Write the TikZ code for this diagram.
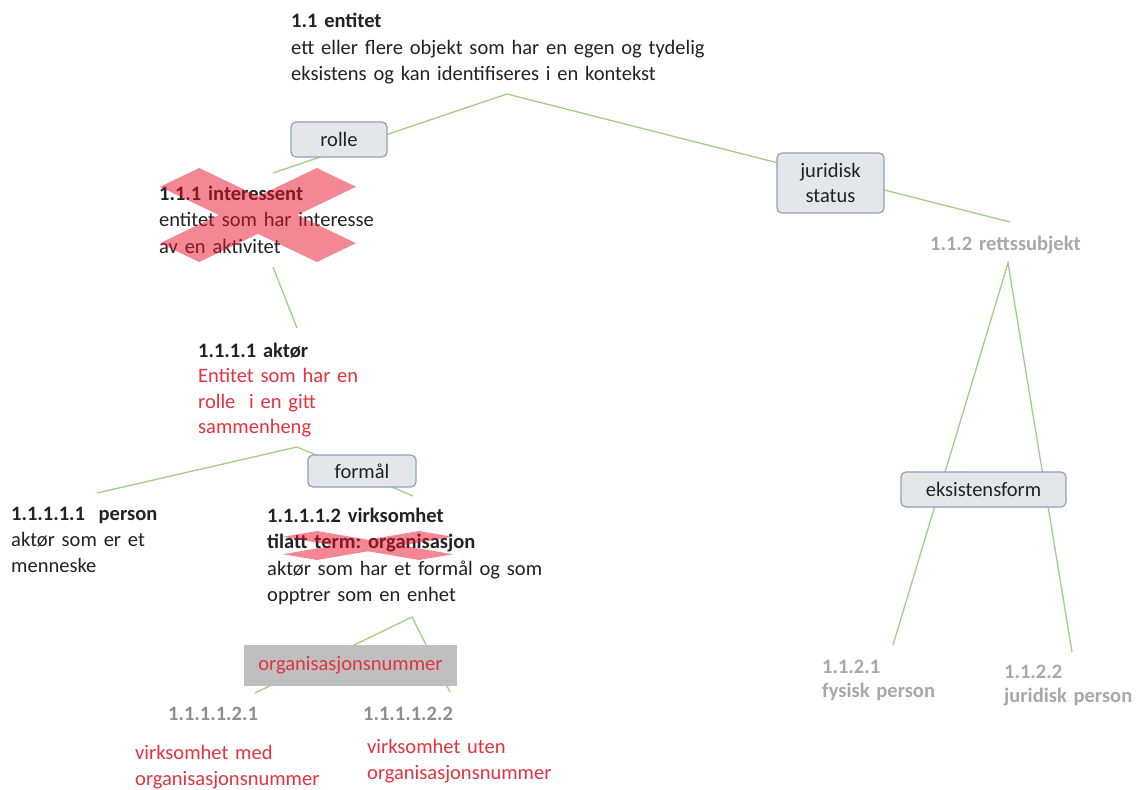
\documentclass[tikz,border=0pt]{standalone}
\usepackage{fontspec}
\setmainfont{Carlito}
\frenchspacing
\definecolor{glinec}{HTML}{A3CF85}
\definecolor{boxfill}{HTML}{E5E6EA}
\definecolor{boxdraw}{HTML}{8DA2B8}
\definecolor{txt}{HTML}{222222}
\definecolor{redtxt}{HTML}{E2333F}
\definecolor{graytxt}{HTML}{A8A8A8}
\definecolor{graytxtB}{HTML}{8E8E8E}
\definecolor{crossred}{HTML}{E8102A}
\definecolor{orgfill}{HTML}{BFBFBF}
\newcommand\mycross[4]{%
  \fill[crossfill] ({#1},{#2-0.4*#4}) -- ({#1+0.6*#3},{#2-#4}) -- ({#1+#3},{#2-0.6*#4}) --
  ({#1+0.4*#3},{#2}) -- ({#1+#3},{#2+0.6*#4}) -- ({#1+0.6*#3},{#2+#4}) --
  ({#1},{#2+0.4*#4}) -- ({#1-0.6*#3},{#2+#4}) -- ({#1-#3},{#2+0.6*#4}) --
  ({#1-0.4*#3},{#2}) -- ({#1-#3},{#2-0.6*#4}) -- ({#1-0.6*#3},{#2-#4}) -- cycle;}
\begin{document}
\begin{tikzpicture}[x=1pt,y=-1pt,
  txtnode/.style={anchor=base west, inner sep=0pt, text width=500pt, align=left,
    font=\fontsize{20.5}{26.5}\selectfont, text=txt},
  boxnode/.style={draw=boxdraw, fill=boxfill, rounded corners=5pt, line width=1.2pt,
    inner sep=0pt, align=center, font=\fontsize{20.5}{25}\selectfont, text=txt},
  gl/.style={draw=glinec, line width=1.3pt},
  crossfill/.style={fill=crossred, fill opacity=0.5}]
\useasboundingbox (0,0) rectangle (1139,789);
\fill[white] (0,0) rectangle (1139,789);

% connector coordinates
\coordinate (entB) at (507,94);
\coordinate (intT) at (273,173);
\coordinate (retT) at (1010,222);
\coordinate (intB) at (273,267);
\coordinate (aktT) at (297,328);
\coordinate (aktB) at (297,447);
\coordinate (perT) at (97,493);
\coordinate (virT) at (413,496);
\coordinate (virB) at (412,617);
\coordinate (v1T) at (255,693);
\coordinate (v2T) at (450,692);
\coordinate (retB) at (1008,263);
\coordinate (fysT) at (893,645);
\coordinate (jurT) at (1072,652);

\draw[gl] (intT) -- (entB) -- (retT);
\draw[gl] (intB) -- (aktT);
\draw[gl] (perT) -- (aktB) -- (virT);
\draw[gl] (v1T) -- (virB) -- (v2T);
\draw[gl] (fysT) -- (retB) -- (jurT);

% text blocks
\node[txtnode] (entitet) at (291,28) {\textbf{1.1 entitet}\\ett eller flere objekt som har en egen og tydelig\\eksistens og kan identifiseres i en kontekst};
\node[txtnode] (interessent) at (159,200) {\textbf{1.1.1 interessent}\\entitet som har interesse\\av en aktivitet};
\node[txtnode, font=\fontsize{20.5}{25.5}\selectfont] (aktor) at (198,357) {\textbf{1.1.1.1 aktør}\\\textcolor{redtxt}{Entitet som har en}\\\textcolor{redtxt}{rolle\ \ i en gitt}\\\textcolor{redtxt}{sammenheng}};
\node[txtnode, font=\fontsize{20.5}{26}\selectfont] (person) at (11,520) {\textbf{1.1.1.1.1\ \ person}\\aktør som er et\\menneske};
\node[txtnode] (virksomhet) at (267,522) {\textbf{1.1.1.1.2 virksomhet}\\\textbf{tilatt term: organisasjon}\\aktør som har et formål og som\\opptrer som en enhet};
\node[txtnode, text=graytxt] (retts) at (930,250) {\textbf{1.1.2 rettssubjekt}};
\node[txtnode, text=graytxt, font=\fontsize{20.5}{24}\selectfont] (fysisk) at (822,673) {\textbf{1.1.2.1}\\\textbf{fysisk person}};
\node[txtnode, text=graytxt, font=\fontsize{20.5}{24}\selectfont] (juridisk) at (1004,678) {\textbf{1.1.2.2}\\\textbf{juridisk person}};
\node[txtnode, text=graytxtB] (v1num) at (168,720) {\textbf{1.1.1.1.2.1}};
\node[txtnode, text=graytxtB] (v2num) at (363,720) {\textbf{1.1.1.1.2.2}};
\node[txtnode, text=redtxt] (v1txt) at (135,759) {virksomhet med\\organisasjonsnummer};
\node[txtnode, text=redtxt] (v2txt) at (367,753) {virksomhet uten\\organisasjonsnummer};

% boxes
\node[boxnode, minimum width=96pt, minimum height=35pt] (rolle) at (339,139.5) {rolle};
\node[boxnode, minimum width=107pt, minimum height=60pt] (jurstatus) at (830.5,183) {juridisk\\status};
\node[boxnode, minimum width=108pt, minimum height=32pt] (formal) at (362,471) {formål};
\node[boxnode, minimum width=165pt, minimum height=35pt] (eksist) at (983.5,489.5) {eksistensform};
\node[fill=orgfill, minimum width=213pt, minimum height=41pt, inner sep=0pt,
  font=\fontsize{20.5}{25}\selectfont, text=redtxt] (orgnr) at (350.5,665.5) {organisasjonsnummer};

% crosses
\mycross{258}{215}{98}{47}
\mycross{368}{545.5}{85}{14.5}
\end{tikzpicture}
\end{document}
